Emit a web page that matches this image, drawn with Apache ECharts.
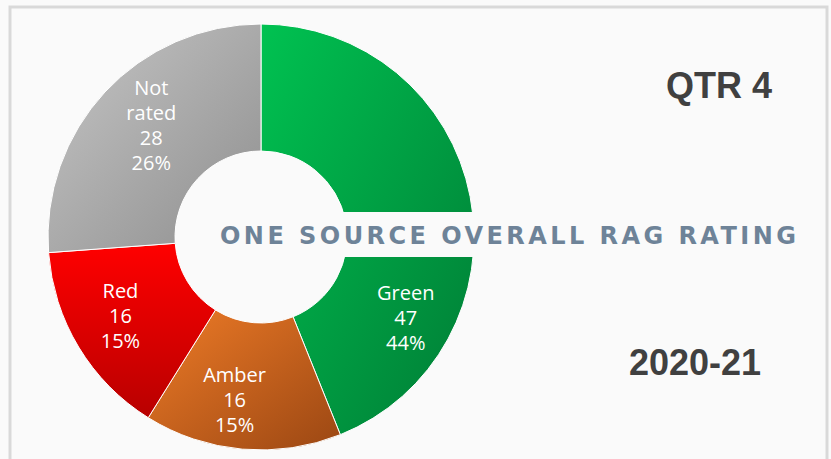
<!DOCTYPE html>
<html>
<head>
<meta charset="utf-8">
<script src="https://cdn.jsdelivr.net/npm/echarts@6/dist/echarts.min.js"></script>
<style>
  html, body { margin: 0; padding: 0; background: #fafafa; }
  #chart { width: 831px; height: 459px; }
  /* spaced-out caps for the banner title */
  #chart text[fill="#6e8398"] { letter-spacing: 3.45px; }
</style>
</head>
<body>
<div id="chart"></div>
<script>
// RAG status categories and how many projects sit in each
const categories = ['Green', 'Amber', 'Red', 'Not rated'];
const counts = [47, 16, 16, 28];
const percentLabels = ['44%', '15%', '15%', '26%'];

// gradient stops per slice (light end, dark end)
const sliceColors = [
  ['#00c251', '#007c35'],
  ['#ee7b27', '#9b4713'],
  ['#ff0000', '#b80000'],
  ['#c6c6c6', '#8e8e8e']
];
// vertical-only shading for the red slice
const sliceDirections = [[1, 1], [1, 1], [0, 1], [1, 1]];
// small nudges to keep labels clear of the banner
const labelNudge = [[-5, 109], [-13, 11], [-10, 0], [2, -8]];

const chart = echarts.init(document.getElementById('chart'), null, { renderer: 'svg' });

const pieData = categories.map((name, i) => ({
  name: name,
  value: counts[i],
  itemStyle: {
    color: new echarts.graphic.LinearGradient(0, 0, sliceDirections[i][0], sliceDirections[i][1], [
      { offset: 0, color: sliceColors[i][0] },
      { offset: 1, color: sliceColors[i][1] }
    ])
  }
}));

chart.setOption({
  backgroundColor: '#fafafa',
  animation: false,
  graphic: [
    {
      type: 'rect',
      z: -10,
      shape: { x: 10, y: 7, width: 817, height: 470 },
      style: { fill: '#fafafa', stroke: '#d9d9d9', lineWidth: 3 }
    },
    {
      type: 'text',
      z: 20,
      style: {
        text: 'QTR 4', x: 719, y: 85, align: 'center', verticalAlign: 'middle',
        font: 'bold 36px "Liberation Sans", Arial, sans-serif', fill: '#404040'
      }
    },
    {
      type: 'text',
      z: 20,
      style: {
        text: '2020-21', x: 695, y: 362, align: 'center', verticalAlign: 'middle',
        font: 'bold 36px "Liberation Sans", Arial, sans-serif', fill: '#404040'
      }
    }
  ],
  title: {
    text: 'ONE SOURCE OVERALL RAG RATING',
    left: 210,
    top: 214,
    z: 10,
    padding: [12, 106, 9, 10],
    backgroundColor: '#fafafa',
    textStyle: {
      fontFamily: '"DejaVu Sans", Verdana, sans-serif',
      fontWeight: 'bold',
      fontSize: 24,
      lineHeight: 20,
      color: '#6e8398'
    }
  },
  series: [{
    type: 'pie',
    center: [261, 237],
    radius: [86, 213],
    startAngle: 90,
    clockwise: true,
    z: 1,
    itemStyle: { borderColor: '#ffffff', borderWidth: 1 },
    label: {
      show: true,
      position: 'inside',
      color: '#ffffff',
      fontFamily: '"Open Sans", sans-serif',
      fontSize: 20,
      lineHeight: 25,
      formatter: (p) => {
        const name = p.name === 'Not rated' ? 'Not\nrated' : p.name;
        return name + '\n' + p.value + '\n' + percentLabels[p.dataIndex];
      }
    },
    labelLayout: (p) => ({ dx: labelNudge[p.dataIndex][0], dy: labelNudge[p.dataIndex][1] }),
    emphasis: { disabled: true },
    data: pieData
  }]
});
</script>
</body>
</html>
